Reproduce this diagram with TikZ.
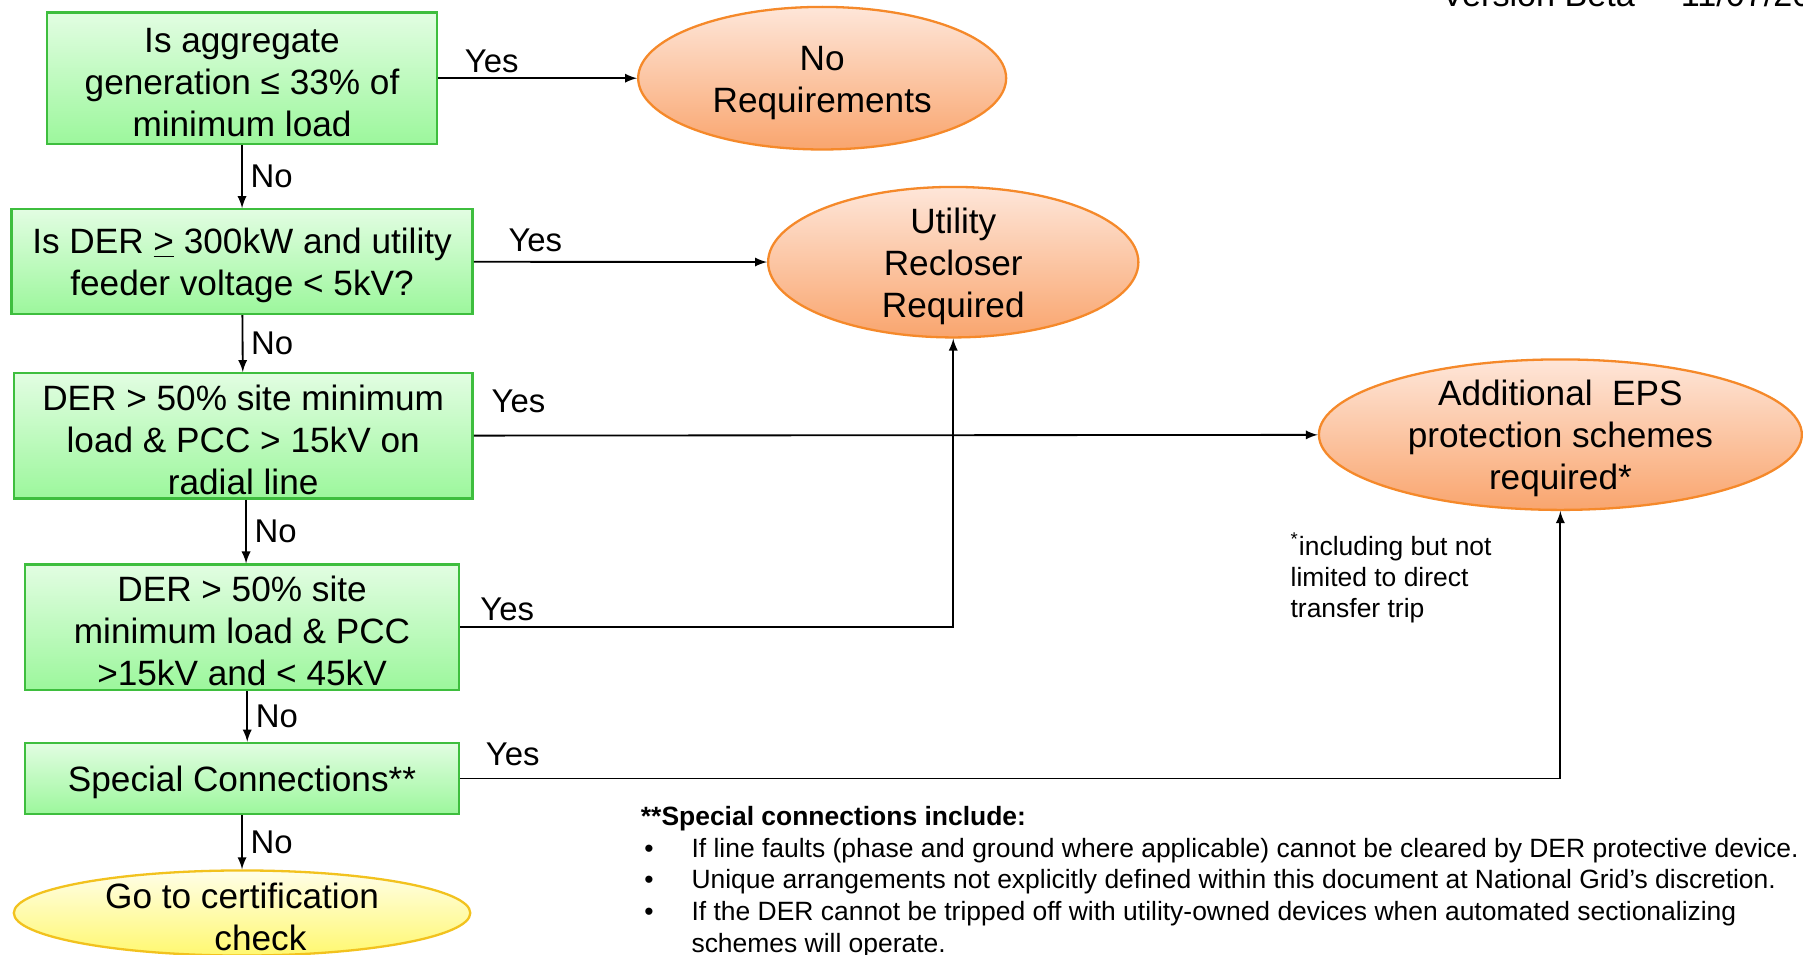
\documentclass[tikz,border=0pt]{standalone}
\usepackage{fontspec}
\setmainfont{Liberation Sans}
\usepackage{tikz}
\usetikzlibrary{shapes.geometric}

\definecolor{boxtop}{HTML}{E2FDE2}
\definecolor{boxbot}{HTML}{9CF79C}
\definecolor{boxline}{HTML}{3EBE3E}
\definecolor{ovtop}{HTML}{FEE6D9}
\definecolor{ovbot}{HTML}{F9A56E}
\definecolor{ovline}{HTML}{F5892A}
\definecolor{gotop}{HTML}{FFFEE8}
\definecolor{gobot}{HTML}{FFF870}
\definecolor{goline}{HTML}{F2C21E}
\newcommand{\topgap}{\rule{0pt}{14.5pt}}

\begin{document}
\begin{tikzpicture}[x=0.5pt, y=-0.5pt,
    qbox/.style={draw=boxline, line width=1pt, top color=boxtop, bottom color=boxbot,
                 inner sep=0pt, align=center, font=\fontsize{15.3}{18.3}\selectfont},
    ebox/.style={ellipse, draw=ovline, line width=1pt, top color=ovtop, bottom color=ovbot,
                 inner sep=-4pt, align=center, font=\fontsize{15.3}{18.3}\selectfont},
    lab/.style={font=\fontsize{14.3}{17}\selectfont},
    yes/.style={lab, above, inner sep=1pt},
    no/.style={lab, right, midway},
    arr/.style={-latex, line width=0.8pt}
 ]
\path[use as bounding box] (0,0) rectangle (1568,830);
\clip (0,0) rectangle (1568,830);

\node[qbox, minimum width=169.5pt, minimum height=57pt] (Q1) at (210.5,68) {\topgap Is aggregate\\generation ≤ 33\% of\\minimum load};
\node[qbox, minimum width=200.5pt, minimum height=45.5pt] (Q2) at (210.5,227.5) {\topgap Is DER \underline{>} 300kW and utility\\feeder voltage < 5kV?};
\node[qbox, minimum width=199.5pt, minimum height=54.5pt] (Q3) at (211.5,379) {\topgap DER > 50\% site minimum\\load \& PCC > 15kV on\\radial line};
\node[qbox, minimum width=188.5pt, minimum height=54.5pt] (Q4) at (210.5,545.5) {\topgap DER > 50\% site\\minimum load \& PCC\\>15kV and < 45kV};
\node[qbox, minimum width=188.5pt, minimum height=31pt] (Q5) at (210.5,677) {\topgap Special Connections**};

\node[ebox, minimum width=160pt, minimum height=62pt] (R1) at (715,68) {\topgap No\\Requirements};
\node[ebox, minimum width=161pt, minimum height=63pt] (R2) at (829,228) {\topgap Utility\\Recloser\\Required};
\node[ebox, minimum width=210pt, minimum height=63pt] (R3) at (1357,378) {\topgap Additional\ \ EPS\\protection schemes\\required*};
\node[ebox, draw=goline, top color=gotop, bottom color=gobot,
      minimum width=198.5pt, minimum height=37pt] (G) at (210.5,794) {\topgap Go to certification\\\hspace*{16pt}check};

% yes branches
\draw[arr] (Q1) -- node[yes, pos=0.27, yshift=1pt] (Y1) {Yes} (R1);
\draw[arr] (Q2) -- node[yes, pos=0.21, yshift=3pt] (Y2) {Yes} (R2);
\draw[arr] (Q3) -- node[yes, pos=0.053, yshift=8.5pt] (Y3) {Yes} (R3);
\draw[arr] (Q4) -| node[yes, pos=0.048, yshift=1.5pt] (Y4) {Yes} (R2);
\draw[arr] (Q5) -| node[yes, pos=0.024, yshift=4pt] (Y5) {Yes} (R3);

% no branches
\draw[arr] (Q1) -- node[no] (N1) {No} (Q2);
\draw[arr] (Q2) -- node[no] (N2) {No} (Q3);
\draw[arr] ([xshift=1.25pt]Q3.south) -- node[no] (N3) {No} ([xshift=1.25pt]Q3.south |- Q4.north);
\draw[arr] ([xshift=2.25pt]Q4.south) -- node[no] (N4) {No} ([xshift=2.25pt]Q4.south |- Q5.north);
\draw[arr] (Q5) -- node[no] (N5) {No} (G);

\node[anchor=north west, inner sep=0pt, align=left, font=\fontsize{11.5}{13.5}\selectfont] (S) at (1122,463)
    {\textsuperscript{*}including but not\\limited to direct\\transfer trip};
\node[anchor=north west, inner sep=0pt, align=left, font=\fontsize{11.5}{13.75}\selectfont] (K) at (557,701)
    {\textbf{**Special connections include:}\\
     \makebox[22pt][l]{\hspace{1.5pt}•}If line faults (phase and ground where applicable) cannot be cleared by DER protective device.\\
     \makebox[22pt][l]{\hspace{1.5pt}•}Unique arrangements not explicitly defined within this document at National Grid’s discretion.\\
     \makebox[22pt][l]{\hspace{1.5pt}•}If the DER cannot be tripped off with utility-owned devices when automated sectionalizing\\
     \hspace*{22pt}schemes will operate.};
\node[anchor=base west, inner sep=0pt, font=\fontsize{14.85}{17}\selectfont] (V) at (1253,6) {Version Beta\hspace{20pt}11/07/20};
%\draw (Q5) -- (G);
\end{tikzpicture}
\end{document}
